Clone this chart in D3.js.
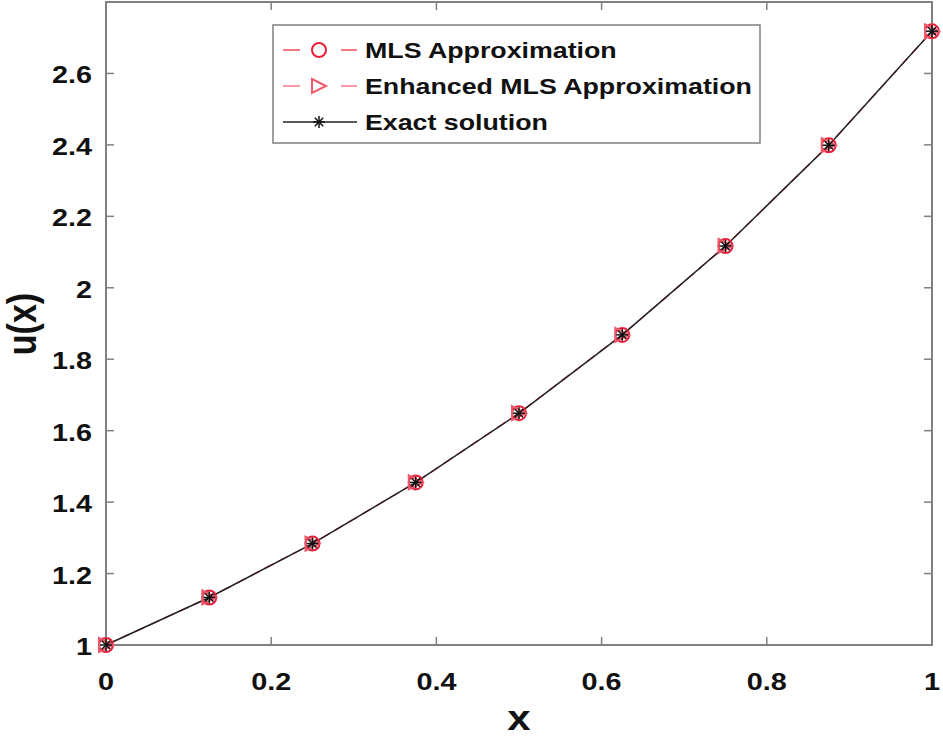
<!DOCTYPE html>
<html><head><meta charset="utf-8">
<script src="https://cdn.jsdelivr.net/npm/d3@7"></script>
<style>body{margin:0;background:#fff;}text{font-family:Arial,"Liberation Sans",sans-serif;font-weight:bold;}</style>
</head><body>
<svg id="c" width="943" height="738"></svg>
<script>
const xs = [0, 0.125, 0.25, 0.375, 0.5, 0.625, 0.75, 0.875, 1];
const mls = [1.0, 1.133, 1.284, 1.455, 1.649, 1.868, 2.117, 2.399, 2.718];
const emls = [1.0, 1.133, 1.284, 1.455, 1.649, 1.868, 2.117, 2.399, 2.718];
const exact = [1.0, 1.1331, 1.2840, 1.4550, 1.6487, 1.8682, 2.1170, 2.3989, 2.7183];
const xTicks = [0, 0.2, 0.4, 0.6, 0.8, 1];
const yTicks = [1, 1.2, 1.4, 1.6, 1.8, 2, 2.2, 2.4, 2.6];
const legendLabels = ["MLS Approximation", "Enhanced MLS Approximation", "Exact solution"];

const svg = d3.select("#c");
const L = 106, R = 932, T = 2, B = 645;
const x = d3.scaleLinear().domain([0, 1]).range([L, R]);
const y = d3.scaleLinear().domain([1, 2.8]).range([B, T]);
const axisCol = "#808080";
const SX = 1.2;

function stext(sel, tx, ty, str, size, anchor, rot) {
  const tr = rot ? `translate(${tx},${ty}) rotate(-90) scale(1,${SX})` : `translate(${tx},${ty}) scale(${SX},1)`;
  return sel.append("text").attr("transform", tr).attr("text-anchor", anchor).attr("font-size", size).attr("fill", "#111").text(str);
}

const g = svg.append("g");
xTicks.forEach(t => {
  g.append("line").attr("x1", x(t)).attr("x2", x(t)).attr("y1", B).attr("y2", B - 8).attr("stroke", axisCol).attr("stroke-width", 1.5);
  g.append("line").attr("x1", x(t)).attr("x2", x(t)).attr("y1", T).attr("y2", T + 8).attr("stroke", axisCol).attr("stroke-width", 1.5);
  stext(g, x(t), B + 45, d3.format("~g")(t), 24, "middle");
});
yTicks.forEach(t => {
  g.append("line").attr("x1", L).attr("x2", L + 8).attr("y1", y(t)).attr("y2", y(t)).attr("stroke", axisCol).attr("stroke-width", 1.5);
  g.append("line").attr("x1", R).attr("x2", R - 8).attr("y1", y(t)).attr("y2", y(t)).attr("stroke", axisCol).attr("stroke-width", 1.5);
  stext(g, L - 14, y(t) + 10, d3.format("~g")(t), 24, "end");
});
svg.append("rect").attr("x", L).attr("y", T).attr("width", R - L).attr("height", B - T)
  .attr("fill", "none").attr("stroke", axisCol).attr("stroke-width", 2);

stext(svg, 519, 730, "x", 35, "middle");
stext(svg, 36, 324, "u(x)", 34, "middle", true);

const line = d3.line().x(d => x(d[0])).y(d => y(d[1]));
const plot = svg.append("g");
const mlsCol = "#e8203a", emlsCol = "#ee5a6c";

plot.append("path").attr("d", line(xs.map((v, i) => [v, mls[i]]))).attr("fill", "none").attr("stroke", mlsCol).attr("stroke-width", 1.2).attr("stroke-dasharray", "10,6");
plot.append("path").attr("d", line(xs.map((v, i) => [v, emls[i]]))).attr("fill", "none").attr("stroke", emlsCol).attr("stroke-width", 1.2).attr("stroke-dasharray", "10,6");
plot.append("path").attr("d", line(xs.map((v, i) => [v, exact[i]]))).attr("fill", "none").attr("stroke", "#222").attr("stroke-width", 1.5);

function circ(sel, cx, cy, col) {
  sel.append("circle").attr("cx", cx).attr("cy", cy).attr("r", 7).attr("fill", "none").attr("stroke", col).attr("stroke-width", 2);
}
function tri(sel, cx, cy, col) {
  const s = 7;
  sel.append("path").attr("d", `M${cx - s},${cy - s}L${cx + s},${cy}L${cx - s},${cy + s}Z`).attr("fill", "none").attr("stroke", col).attr("stroke-width", 2);
}
function star(sel, cx, cy, col) {
  const s = 6;
  const d = [[0, -s, 0, s], [-s, 0, s, 0], [-s * 0.7, -s * 0.7, s * 0.7, s * 0.7], [-s * 0.7, s * 0.7, s * 0.7, -s * 0.7]];
  d.forEach(a => sel.append("line").attr("x1", cx + a[0]).attr("y1", cy + a[1]).attr("x2", cx + a[2]).attr("y2", cy + a[3]).attr("stroke", col).attr("stroke-width", 1.5));
}
xs.forEach((v, i) => circ(plot, x(v), y(mls[i]), mlsCol));
xs.forEach((v, i) => tri(plot, x(v), y(emls[i]), emlsCol));
xs.forEach((v, i) => star(plot, x(v), y(exact[i]), "#111"));

const lg = svg.append("g");
lg.append("rect").attr("x", 273).attr("y", 25).attr("width", 487).attr("height", 118).attr("fill", "#fff").attr("stroke", axisCol).attr("stroke-width", 1.5);
const rowsY = [50, 86, 122];
const cols = [mlsCol, emlsCol, "#222"];
rowsY.forEach((ry, i) => {
  if (i < 2) {
    lg.append("line").attr("x1", 283).attr("x2", 300).attr("y1", ry).attr("y2", ry).attr("stroke", cols[i]).attr("stroke-width", 1.2);
    lg.append("line").attr("x1", 341).attr("x2", 357).attr("y1", ry).attr("y2", ry).attr("stroke", cols[i]).attr("stroke-width", 1.2);
  } else {
    lg.append("line").attr("x1", 283).attr("x2", 357).attr("y1", ry).attr("y2", ry).attr("stroke", cols[i]).attr("stroke-width", 1.5);
  }
  if (i === 0) circ(lg, 319, ry, mlsCol);
  if (i === 1) tri(lg, 319, ry, emlsCol);
  if (i === 2) star(lg, 319, ry, "#111");
  stext(lg, 365, ry + 8, legendLabels[i], 22.3, "start");
});
</script>
</body></html>
